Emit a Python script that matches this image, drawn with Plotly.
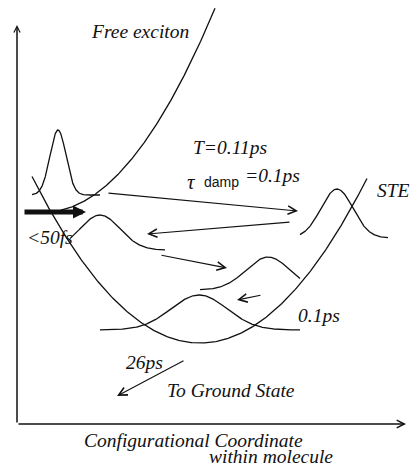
import numpy as np
import plotly.graph_objects as go

# Potential energy surfaces along the configurational coordinate q
PES_NAMES = ["Free exciton", "STE"]
PES_CENTER = [0.7, 4.575]
PES_BOTTOM = [5.3, 2.025]
PES_STIFF = [0.282, 0.236]
PES_QMIN = [0.825, 0.375]
PES_QMAX = [4.95, 8.75]

# Vibrational wavepackets (gaussian profiles sitting on a baseline energy)
WP_CENTER = [1.025, 2.075, 6.275, 4.55, 8.0]
WP_BASE = [5.725, 4.35, 3.35, 2.35, 4.65]
WP_HEIGHT = [1.625, 0.875, 0.825, 0.875, 1.225]
WP_WIDTH = [0.2, 0.5, 0.55, 0.7, 0.4]
WP_QMIN = [0.375, 1.325, 4.575, 2.075, 7.075]
WP_QMAX = [2.075, 3.7, 7.075, 7.075, 9.275]

# Wavepacket oscillation arrows: tail (q, E) -> head (q, E)
OSC_Q0 = [2.25, 6.85, 3.575, 6.125]
OSC_E0 = [5.775, 5.05, 4.225, 3.225]
OSC_Q1 = [7.025, 3.25, 5.25, 5.5]
OSC_E1 = [5.325, 4.75, 3.9, 3.1]

# Optical excitation (thick arrow) and decay to ground state (26ps)
EXC_Q = [0.15, 1.725]
EXC_E = [5.3, 5.3]
DECAY_Q = [4.2, 2.5]
DECAY_E = [1.6, 0.7]

# Coordinate axes extent
AXIS_QMAX = 9.725
AXIS_EMAX = 9.975

INK = "#111111"
SERIF = "Liberation Serif"

fig = go.Figure()

for name, c, b, k, q0, q1 in zip(PES_NAMES, PES_CENTER, PES_BOTTOM, PES_STIFF, PES_QMIN, PES_QMAX):
    q = np.linspace(q0, q1, 300)
    fig.add_trace(go.Scatter(x=q, y=b + k * (q - c) ** 2, mode="lines", name=name,
                             line=dict(color=INK, width=1.3), hoverinfo="skip"))

for c, b, h, w, q0, q1 in zip(WP_CENTER, WP_BASE, WP_HEIGHT, WP_WIDTH, WP_QMIN, WP_QMAX):
    q = np.linspace(q0, q1, 300)
    fig.add_trace(go.Scatter(x=q, y=b + h * np.exp(-((q - c) ** 2) / (2 * w * w)), mode="lines",
                             line=dict(color=INK, width=1.3), hoverinfo="skip"))


def arrow(q0, e0, q1, e1, width=1.1, head=5, size=1.5):
    fig.add_annotation(x=q1, y=e1, ax=q0, ay=e0, xref="x", yref="y", axref="x", ayref="y",
                       text="", showarrow=True, arrowhead=head, arrowsize=size,
                       arrowwidth=width, arrowcolor=INK, standoff=0)


# axes
arrow(0, 0, AXIS_QMAX, 0, width=1.5, size=1.0)
arrow(0, 0, 0, AXIS_EMAX, width=1.5, size=0.8)

for q0, e0, q1, e1 in zip(OSC_Q0, OSC_E0, OSC_Q1, OSC_E1):
    arrow(q0, e0, q1, e1)
arrow(DECAY_Q[0], DECAY_E[0], DECAY_Q[1], DECAY_E[1])
arrow(EXC_Q[0], EXC_E[0], EXC_Q[1], EXC_E[1], width=5, head=2, size=0.52)


def label(text, q, e, anchor="left", size=19.5, family=SERIF, style="italic"):
    fig.add_annotation(x=q, y=e, xref="x", yref="y", text=text, showarrow=False,
                       xanchor=anchor, yanchor="middle", borderpad=0,
                       font=dict(family=family, size=size, color=INK, style=style))


label("Free exciton", 3.075, 9.825, anchor="center")
label("T=0.11ps", 4.375, 6.925)
label("τ", 4.225, 6.05, size=21)
label("damp", 4.65, 6.05, size=14, family="Liberation Sans", style="normal")
label("=0.1ps", 5.675, 6.225)
label("STE", 8.975, 5.85)
label("<50fs", 0.225, 4.675)
label("0.1ps", 7.0, 2.725)
label("26ps", 2.7, 1.55)
label("To Ground State", 3.725, 0.85)
label("Configurational Coordinate", 4.4, -0.4, anchor="center")
label("within molecule", 6.35, -0.8, anchor="center")

fig.update_layout(
    width=412, height=472, autosize=False,
    margin=dict(l=0, r=0, t=0, b=0),
    paper_bgcolor="white", plot_bgcolor="white",
    showlegend=False,
    xaxis=dict(range=[-0.425, 9.875], visible=False, fixedrange=True),
    yaxis=dict(range=[-1.2, 10.6], visible=False, fixedrange=True),
)

fig.write_html("out.html")
